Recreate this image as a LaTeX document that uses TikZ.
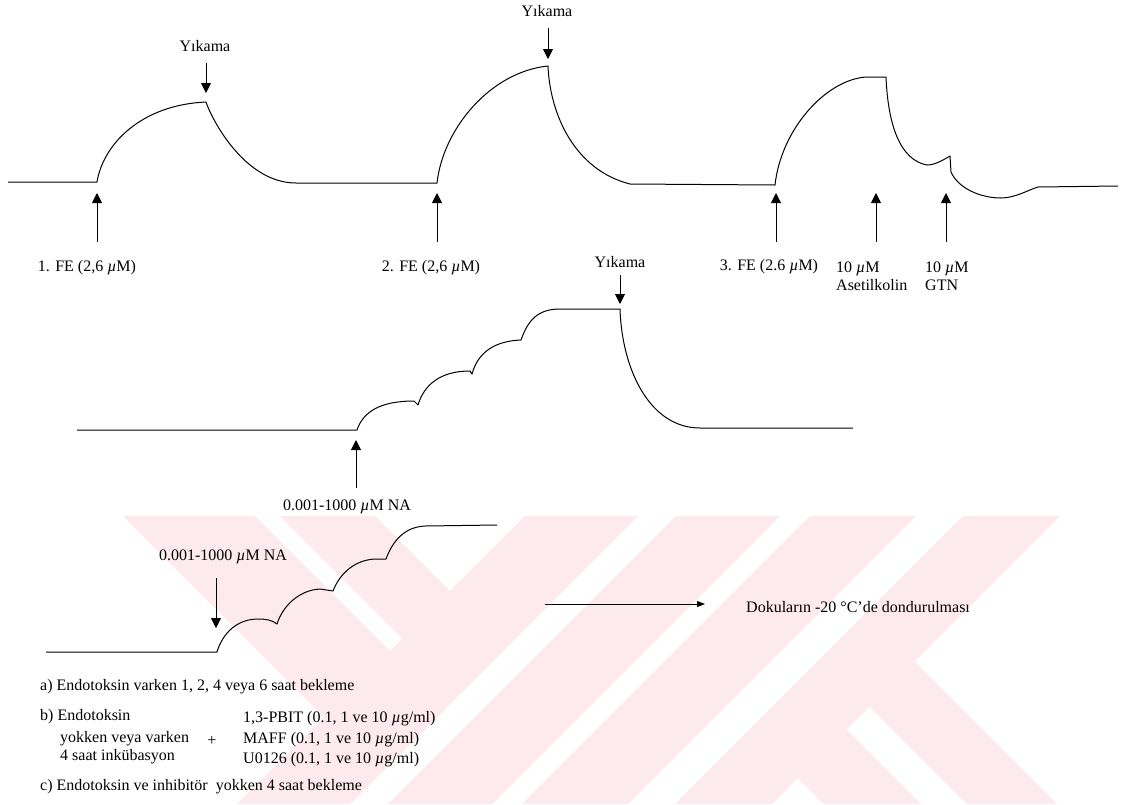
\documentclass[tikz,border=0pt]{standalone}
\usepackage{fontspec}
\setmainfont{Liberation Serif}
\usepackage{tikz}
\usetikzlibrary{arrows.meta}
\definecolor{wmpink}{RGB}{253,234,238}
\newcommand{\mic}{\textit{µ}}

\begin{document}
\begin{tikzpicture}[x=1pt, y=-1pt, >={Triangle[length=10pt, width=10pt]},
    trace/.style={line width=1pt, line join=round},
    cue/.style={->, line width=0.9pt},
    lbl/.style={inner sep=0pt, font=\fontsize{16}{18}\selectfont}]
    \useasboundingbox (0,0) rectangle (1121,804);
    \fill[white] (0,0) rectangle (1121,804);

    % watermark stripes
    \fill[wmpink] (123,516) -- (255,516) -- (446.5,707.5) -- (380.5,773.5) -- cycle;
    \fill[wmpink] (280,516) -- (375,516) -- (506.5,647.5) -- (459,695) -- cycle;
    \fill[wmpink] (525,516) -- (638,516) -- (350,804) -- (237,804) -- cycle;
    \fill[wmpink] (676,516) -- (780,516) -- (492,804) -- (388,804) -- cycle;
    \fill[wmpink] (810,516) -- (916,516) -- (628,804) -- (522,804) -- cycle;
    \fill[wmpink] (963,516) -- (1060,516) -- (772,804) -- (675,804) -- cycle;
    \fill[wmpink] (914.5,661.5) -- (1057,804) -- (967,804) -- (869.5,706.5) -- cycle;
    \fill[wmpink] (846.5,729.5) -- (921,804) -- (824,804) -- (798,778) -- cycle;

    % first recording: three FE contractions
    \draw[trace] (8,182) -- (97,182)
        .. controls (103,145) and (140,105) .. (206,102)
        .. controls (212,120) and (245,183) .. (296,183)
        -- (437,183)
        .. controls (443,129) and (490,72) .. (548,66)
        .. controls (550,115) and (575,170) .. (630,184)
        -- (775,185)
        .. controls (781,130) and (825,80) .. (866,77) -- (886,77)
        .. controls (888,125) and (900,160) .. (927,165)
        .. controls (935,165) and (943,160) .. (950,156)
        -- (951,172)
        .. controls (958,188) and (980,198) .. (1001,198)
        .. controls (1015,198) and (1028,190) .. (1038,187) -- (1118,186);

    \node[lbl] (yik1) at (205,46) {Yıkama};
    \node[lbl] (yik2) at (547,11) {Yıkama};
    \coordinate (w1t) at (206,63);  \coordinate (w1h) at (206,93);
    \coordinate (w2t) at (548,28);  \coordinate (w2h) at (548,59);
    \draw[cue] (w1t) -- (w1h);
    \draw[cue] (w2t) -- (w2h);

    \coordinate (fe1t) at (97,242);  \coordinate (fe1h) at (97,193);
    \coordinate (fe2t) at (437,242); \coordinate (fe2h) at (437,193);
    \coordinate (fe3t) at (776,242); \coordinate (fe3h) at (776,193);
    \coordinate (acht) at (876,242); \coordinate (achh) at (876,193);
    \coordinate (gtnt) at (946,242); \coordinate (gtnh) at (946,193);
    \draw[cue] (fe1t) -- (fe1h);
    \draw[cue] (fe2t) -- (fe2h);
    \draw[cue] (fe3t) -- (fe3h);
    \draw[cue] (acht) -- (achh);
    \draw[cue] (gtnt) -- (gtnh);

    \node[lbl] (fe1) at (87,268) {1. FE (2,6 \mic M)};
    \node[lbl] (fe2) at (431,268) {2. FE (2,6 \mic M)};
    \node[lbl] (fe3) at (769,267) {3. FE (2.6 \mic M)};
    \node[lbl, anchor=west, align=left] (ach) at (836,276) {10 \mic M\\Asetilkolin};
    \node[lbl, anchor=west, align=left] (gtn) at (925,276) {10 \mic M\\GTN};

    % second recording: cumulative NA
    \draw[trace] (77,430) -- (357,430)
        .. controls (363,412) and (380,401) .. (414,401) -- (418,405)
        .. controls (424,385) and (440,371) .. (470,371) -- (472,374)
        .. controls (478,352) and (495,341) .. (521,340)
        .. controls (528,320) and (538,309) .. (560,309) -- (620,309)
        .. controls (622,370) and (650,428) .. (700,428) -- (853,428);

    \node[lbl] (yik3) at (620,262) {Yıkama};
    \coordinate (w3t) at (620,275);  \coordinate (w3h) at (620,304);
    \draw[cue] (w3t) -- (w3h);
    \coordinate (na1t) at (356,488); \coordinate (na1h) at (356,440);
    \draw[cue] (na1t) -- (na1h);
    \node[lbl] (na1) at (347,507) {0.001-1000 \mic M NA};

    % third recording
    \draw[trace] (46,652) -- (217,652)
        .. controls (223,632) and (238,619) .. (258,619)
        .. controls (266,619) and (272,620) .. (277,624)
        .. controls (283,605) and (300,590) .. (320,589) -- (333,591)
        .. controls (340,573) and (355,560) .. (375,559) -- (386,559)
        .. controls (393,540) and (405,527) .. (425,526) -- (497,525);

    \node[lbl] (na2) at (223,557) {0.001-1000 \mic M NA};
    \coordinate (na2t) at (216,578); \coordinate (na2h) at (216,628);
    \draw[cue] (na2t) -- (na2h);

    \coordinate (frzt) at (545,604); \coordinate (frzh) at (705,604);
    \draw[->, line width=0.9pt, >={Triangle[length=8pt, width=6pt]}] (frzt) -- (frzh);
    \node[lbl, anchor=west] (frz) at (746,607) {Dokuların -20 °C'de dondurulması};

    % conditions
    \node[lbl, anchor=west] (ca) at (40,687) {a) Endotoksin varken 1, 2, 4 veya 6 saat bekleme};
    \node[lbl, anchor=west] (cb1) at (40,717) {b) Endotoksin};
    \node[lbl, anchor=west] (cb2) at (60,739) {yokken veya varken};
    \node[lbl, anchor=west] (cb3) at (60,757) {4 saat inkübasyon};
    \node[lbl] (plus) at (212,741) {+};
    \node[lbl, anchor=west] (inh1) at (243,719) {1,3-PBIT (0.1, 1 ve 10 \mic g/ml)};
    \node[lbl, anchor=west] (inh2) at (243,740) {MAFF (0.1, 1 ve 10 \mic g/ml)};
    \node[lbl, anchor=west] (inh3) at (243,760) {U0126 (0.1, 1 ve 10 \mic g/ml)};
    \node[lbl, anchor=west] (cc) at (40,787) {c) Endotoksin ve inhibitör\ \ yokken 4 saat bekleme};
\end{tikzpicture}
\end{document}
